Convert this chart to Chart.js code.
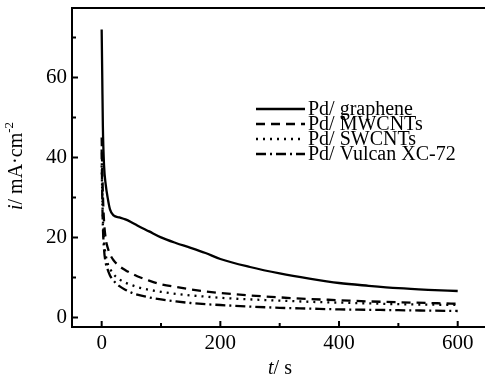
<!DOCTYPE html>
<html>
<head>
<meta charset="utf-8">
<script src="https://cdn.jsdelivr.net/npm/chart.js@4"></script>
<style>
  html, body { margin: 0; padding: 0; background: #fff; }
  #wrap { width: 485px; height: 379px; }
</style>
</head>
<body>
<div id="wrap"><canvas id="ctChart" width="485" height="379"></canvas></div>
<script>
// time points (s) shared by all curves
const times = [0, 1, 2, 4, 7, 10, 14, 20, 30, 40, 50, 60, 80, 100, 125, 150, 175, 200, 250, 300, 350, 400, 450, 500, 550, 600];

// current density i / mA·cm-2
const graphene = [72, 60, 48, 38, 33, 30, 27, 25.5, 25, 24.5, 23.8, 23, 21.5, 20, 18.6, 17.4, 16.1, 14.6, 12.6, 11, 9.7, 8.6, 7.9, 7.3, 6.9, 6.6];
const mwcnts = [45, 37, 31, 24, 19.5, 17.5, 15.8, 14.3, 12.8, 11.8, 11, 10.3, 9.2, 8.3, 7.6, 7, 6.5, 6.1, 5.5, 5, 4.6, 4.3, 4, 3.8, 3.6, 3.4];
const swcnts = [38, 31, 25, 19, 15.5, 13.5, 12.2, 10.8, 9.5, 8.7, 8.1, 7.6, 6.9, 6.4, 5.9, 5.5, 5.2, 4.9, 4.5, 4.2, 3.9, 3.7, 3.5, 3.3, 3.2, 3.1];
const vulcan = [42, 30, 23, 17, 13.5, 12, 10.5, 9.2, 7.8, 6.9, 6.2, 5.7, 5, 4.5, 4, 3.6, 3.3, 3.1, 2.7, 2.4, 2.2, 2, 1.9, 1.8, 1.7, 1.6];

const seriesNames = ['Pd/ graphene', 'Pd/ MWCNTs', 'Pd/ SWCNTs', 'Pd/ Vulcan XC-72'];

// tick labels
const xTicks = [0, 200, 400, 600];
const xMinor = [100, 300, 500];
const yTicks = [0, 20, 40, 60];
const yMinor = [10, 30, 50, 70];

const serif = '"Liberation Serif", "Times New Roman", serif';
const dashes = [[], [9, 6], [2, 5], [10, 4, 2, 4]];

function toPoints(vals) {
  return times.map((t, i) => ({ x: t, y: vals[i] }));
}

const datasets = [graphene, mwcnts, swcnts, vulcan].map((vals, i) => ({
  label: seriesNames[i],
  data: toPoints(vals),
  borderColor: '#000',
  borderWidth: 2.3,
  borderDash: dashes[i],
  pointRadius: 0,
  cubicInterpolationMode: 'monotone',
  fill: false
}));

// inward ticks, top border, axis titles and legend
const decorPlugin = {
  id: 'decor',
  afterDraw(chart) {
    const ctx = chart.ctx;
    const area = chart.chartArea;
    const xs = chart.scales.x, ys = chart.scales.y;
    ctx.save();
    ctx.strokeStyle = '#000';
    ctx.fillStyle = '#000';
    ctx.lineWidth = 2;

    // top frame line
    ctx.beginPath();
    ctx.moveTo(area.left, area.top);
    ctx.lineTo(area.right, area.top);
    ctx.stroke();

    // tick marks pointing inside
    ctx.beginPath();
    xTicks.forEach(v => { const p = xs.getPixelForValue(v); ctx.moveTo(p, area.bottom); ctx.lineTo(p, area.bottom - 6); });
    xMinor.forEach(v => { const p = xs.getPixelForValue(v); ctx.moveTo(p, area.bottom); ctx.lineTo(p, area.bottom - 4); });
    yTicks.forEach(v => { const p = ys.getPixelForValue(v); ctx.moveTo(area.left, p); ctx.lineTo(area.left + 6, p); });
    yMinor.forEach(v => { const p = ys.getPixelForValue(v); ctx.moveTo(area.left, p); ctx.lineTo(area.left + 4, p); });
    ctx.stroke();

    // x title: t/ s
    ctx.textBaseline = 'alphabetic';
    ctx.font = 'italic 20px ' + serif;
    const tW = ctx.measureText('t').width;
    ctx.font = '20px ' + serif;
    const restW = ctx.measureText('/ s').width;
    let x0 = 280 - (tW + restW) / 2;
    ctx.font = 'italic 20px ' + serif;
    ctx.textAlign = 'left';
    ctx.fillText('t', x0, 374);
    ctx.font = '20px ' + serif;
    ctx.fillText('/ s', x0 + tW, 374);

    // y title: i/ mA·cm-2 (rotated)
    ctx.save();
    ctx.translate(22, 166);
    ctx.rotate(-Math.PI / 2);
    ctx.font = 'italic 20px ' + serif;
    const iW = ctx.measureText('i').width;
    ctx.font = '20px ' + serif;
    const mainW = ctx.measureText('/ mA\u00b7cm').width;
    ctx.font = '13px ' + serif;
    const supW = ctx.measureText('-2').width;
    let sx = -(iW + mainW + supW) / 2;
    ctx.font = 'italic 20px ' + serif;
    ctx.fillText('i', sx, 0);
    sx += iW;
    ctx.font = '20px ' + serif;
    ctx.fillText('/ mA\u00b7cm', sx, 0);
    sx += mainW;
    ctx.font = '13px ' + serif;
    ctx.fillText('-2', sx, -9);
    ctx.restore();

    // legend
    ctx.font = '20px ' + serif;
    seriesNames.forEach((name, i) => {
      const ly = 109 + i * 15;
      ctx.save();
      ctx.lineWidth = 2.3;
      ctx.setLineDash(dashes[i]);
      ctx.beginPath();
      ctx.moveTo(256, ly);
      ctx.lineTo(305, ly);
      ctx.stroke();
      ctx.restore();
      ctx.fillText(name, 308, ly + 6);
    });
    ctx.restore();
  }
};

const ctChart = new Chart(document.getElementById('ctChart').getContext('2d'), {
  type: 'line',
  data: { datasets: datasets },
  options: {
    responsive: false,
    animation: false,
    layout: { padding: { top: 8, right: 0, left: 0, bottom: 0 } },
    plugins: { legend: { display: false }, tooltip: { enabled: false } },
    scales: {
      x: {
        type: 'linear',
        min: -50,
        max: 646,
        afterBuildTicks: scale => { scale.ticks = xTicks.map(v => ({ value: v })); },
        afterFit: scale => { scale.height = 52; scale.paddingLeft = 0; scale.paddingRight = 0; },
        grid: { drawOnChartArea: false, drawTicks: false },
        border: { display: true, color: '#000', width: 2 },
        ticks: { color: '#000', padding: 4, maxRotation: 0, font: { family: serif, size: 21 } }
      },
      y: {
        type: 'linear',
        min: -2.4,
        max: 77.35,
        afterBuildTicks: scale => { scale.ticks = yTicks.map(v => ({ value: v })); },
        afterFit: scale => { scale.width = 72; scale.paddingTop = 0; scale.paddingBottom = 0; },
        grid: { drawOnChartArea: false, drawTicks: false },
        border: { display: true, color: '#000', width: 2 },
        ticks: { color: '#000', padding: 5, font: { family: serif, size: 21 } }
      }
    }
  },
  plugins: [decorPlugin]
});
</script>
</body>
</html>
